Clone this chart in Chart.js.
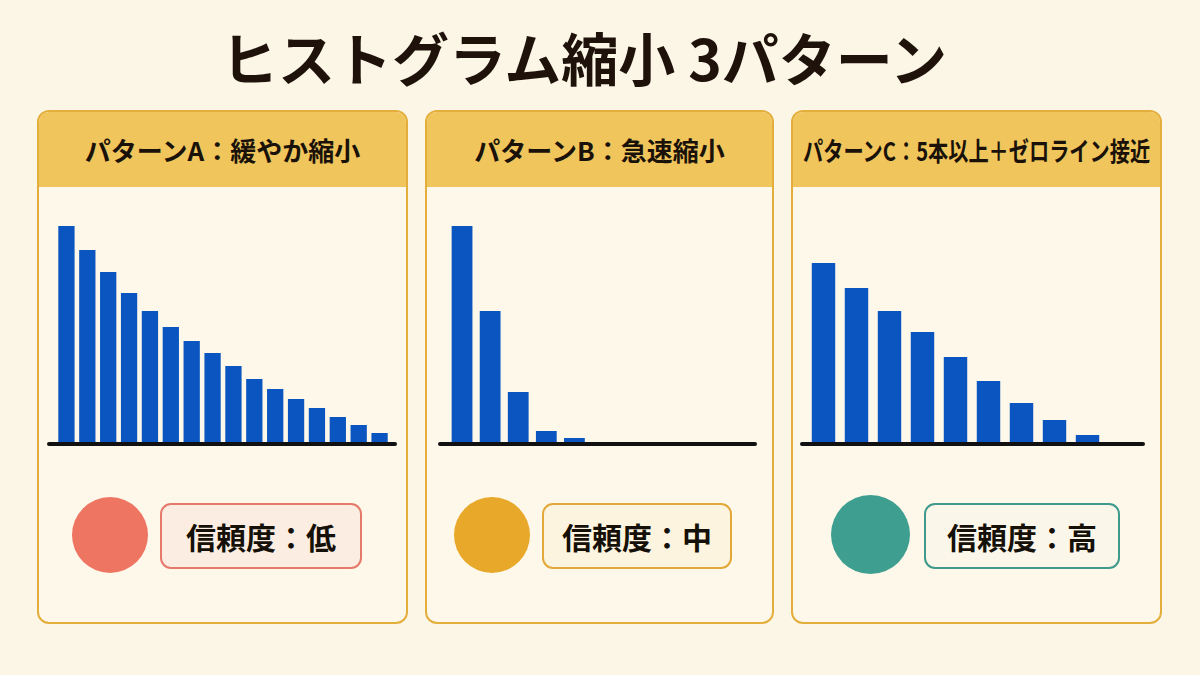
<!DOCTYPE html>
<html lang="ja">
<head>
<meta charset="utf-8">
<script src="https://cdn.jsdelivr.net/npm/chart.js@4.4.1/dist/chart.umd.min.js"></script>
<style>
  html, body { margin: 0; padding: 0; }
  body {
    width: 1200px; height: 675px; position: relative; overflow: hidden;
    background: #fcf6e6;
    font-family: "Noto Sans CJK JP", "Noto Sans", sans-serif;
    color: #1c120b;
  }
  .title {
    position: absolute; left: 0; width: 1168px; top: 20px; height: 72px;
    line-height: 72px; text-align: center;
    font-size: 57px; font-weight: 700; color: #1e120a;
  }
  .panel {
    position: absolute; top: 110px; height: 510px;
    border: 2px solid #e4ae3c; border-radius: 12px;
    background: #fdf8ea; overflow: hidden; box-sizing: content-box;
  }
  .panel .head {
    height: 75px; background: #f0c55c;
    display: flex; align-items: center; justify-content: center;
  }
  .panel .head span {
    display: inline-block; white-space: nowrap;
    font-size: 26px; font-weight: 700; color: #1a1209;
    transform-origin: center center;
  }
  .dot { position: absolute; border-radius: 50%; }
  .badge {
    position: absolute; top: 503px; height: 62px;
    border: 2px solid; border-radius: 11px;
    display: flex; align-items: center; justify-content: center;
    font-size: 30px; font-weight: 700; color: #151008;
  }
</style>
</head>
<body>
<div class="title">ヒストグラム縮小 3パターン</div>

<div class="panel" style="left:37px; width:367px;"><div class="head"><span>パターンA：緩やか縮小</span></div></div>
<div class="panel" style="left:425px; width:345px;"><div class="head"><span>パターンB：急速縮小</span></div></div>
<div class="panel" style="left:791px; width:367px;"><div class="head"><span>パターンC：5本以上＋ゼロライン接近</span></div></div>

<div style="position:absolute; left:47px; top:215px; width:350px; height:235px;"><canvas id="chart-a"></canvas></div>
<div style="position:absolute; left:438px; top:215px; width:319px; height:235px;"><canvas id="chart-b"></canvas></div>
<div style="position:absolute; left:800px; top:215px; width:345px; height:235px;"><canvas id="chart-c"></canvas></div>

<div class="dot" style="left:72px; top:497px; width:76px; height:76px; background:#ef7563;"></div>
<div class="badge" style="left:160px; width:198px; border-color:#e57a6a; background:#fbede2;">信頼度：低</div>

<div class="dot" style="left:454px; top:497px; width:76px; height:76px; background:#e8a82a;"></div>
<div class="badge" style="left:542px; width:186px; border-color:#e2a93a; background:#fdf4e0;">信頼度：中</div>

<div class="dot" style="left:831px; top:495px; width:79px; height:79px; background:#3e9e8f;"></div>
<div class="badge" style="left:924px; width:192px; border-color:#3f9a8c; background:#fbf6ea;">信頼度：高</div>

<script>
// histogram bins (bin index) and bar heights
const binsA = ['1','2','3','4','5','6','7','8','9','10','11','12','13','14','15','16'];
const valuesA = [217, 193, 171, 150, 132, 116, 102, 90, 77, 64, 54, 44, 35, 26, 18, 10];

const binsB = ['1','2','3','4','5','6','7','8','9','10','11'];
const valuesB = [217, 132, 51, 12, 5];

const binsC = ['1','2','3','4','5','6','7','8','9','10'];
const valuesC = [180, 155, 132, 111, 86, 62, 40, 23, 8];

const yMax = 220;
const barColor = '#0a55c0';

// fit header text into the panel width (pattern C is squeezed)
document.querySelectorAll('.panel .head span').forEach(span => {
    const room = span.parentElement.clientWidth - 20;
    const w = span.offsetWidth;
    if (w > room) span.style.transform = 'scaleX(' + (room / w) + ')';
});

// thick black zero line under the bars
const baseLine = {
    id: 'baseLine',
    afterDatasetsDraw(chart) {
        const { ctx, chartArea, width } = chart;
        ctx.save();
        ctx.strokeStyle = '#111';
        ctx.lineWidth = 4;
        ctx.lineCap = 'round';
        ctx.beginPath();
        ctx.moveTo(2, chartArea.bottom + 1);
        ctx.lineTo(width - 2, chartArea.bottom + 1);
        ctx.stroke();
        ctx.restore();
    }
};

function plotHistogram(id, labels, values, barPct, padLeft, padRight) {
    const ctx = document.getElementById(id).getContext('2d');
    return new Chart(ctx, {
        type: 'bar',
        data: {
            labels: labels,
            datasets: [{
                data: values,
                backgroundColor: barColor,
                borderWidth: 0,
                barPercentage: barPct,
                categoryPercentage: 1.0
            }]
        },
        options: {
            responsive: true,
            maintainAspectRatio: false,
            animation: false,
            layout: { padding: { left: padLeft, right: padRight, top: 8, bottom: 7 } },
            scales: {
                x: { display: false, grid: { display: false } },
                y: { display: false, min: 0, max: yMax, grid: { display: false } }
            },
            plugins: {
                legend: { display: false },
                tooltip: { enabled: false }
            }
        },
        plugins: [baseLine]
    });
}

plotHistogram('chart-a', binsA, valuesA, 0.78, 9, 7);
plotHistogram('chart-b', binsB, valuesB, 0.74, 10, 0);
plotHistogram('chart-c', binsC, valuesC, 0.71, 7, 8);
</script>
</body>
</html>
